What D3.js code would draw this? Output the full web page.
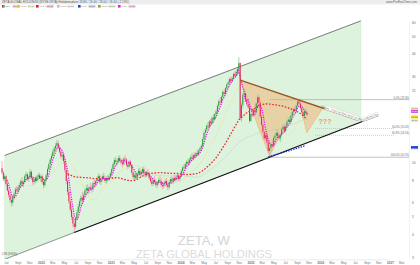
<!DOCTYPE html>
<html><head><meta charset="utf-8">
<script src="https://cdn.jsdelivr.net/npm/d3@7"></script>
<style>body{margin:0;background:#fff}svg{display:block;font-family:"Liberation Sans",Arial,sans-serif}</style>
</head><body><svg id="c" width="420" height="265"></svg>
<script>
// ---------- DATA ----------
const startWeek = "2021-06-11";
// weekly candles [open, high, low, close]
const candles = [
[9.3,10.2,8.6,8.8],[8.8,9.0,7.9,8.1],[8.1,8.6,7.8,8.4],[8.4,8.5,7.4,7.6],[7.6,7.8,6.9,7.0],[7.0,7.3,6.4,6.6],[6.6,6.8,6.0,6.2],[6.2,6.5,5.7,6.0],
[6.0,6.6,5.8,6.4],[6.4,6.9,6.2,6.7],[6.7,7.3,6.5,7.1],[7.1,7.4,6.8,7.0],[7.0,7.5,6.8,7.3],[7.3,7.7,7.0,7.5],[7.5,8.1,7.3,7.9],[7.9,8.3,7.4,7.6],
[7.6,8.0,7.3,7.8],[7.8,8.6,7.7,8.4],[8.4,8.9,8.0,8.6],[8.6,8.8,7.9,8.1],[8.1,8.5,7.8,8.3],[8.3,9.2,8.1,8.9],[8.9,9.0,8.0,8.2],[8.2,8.4,7.5,7.8],
[7.8,8.3,7.6,8.1],[8.1,8.4,7.7,7.9],[7.9,8.5,7.8,8.3],[8.3,8.7,8.0,8.5],[8.5,8.8,8.1,8.2],[8.2,8.6,7.8,8.4],
[8.4,8.6,7.6,7.8],[7.8,8.0,7.2,7.5],[7.5,8.2,7.3,8.0],[8.0,8.7,7.8,8.5],[8.5,9.4,8.3,9.2],[9.2,10.0,9.0,9.8],[9.8,10.6,9.5,10.4],[10.4,11.2,10.0,10.9],
[10.9,11.8,10.6,11.5],[11.5,12.3,11.1,12.0],[12.0,12.8,11.6,12.4],[12.4,13.4,12.0,12.8],[12.8,13.2,11.8,12.1],[12.1,12.5,11.2,11.5],[11.5,11.9,10.5,10.8],[10.8,11.4,10.3,11.0],
[11.0,11.3,9.8,10.2],[10.2,10.5,8.8,9.1],[9.1,9.3,7.6,7.9],[7.9,8.2,6.6,6.9],[6.9,7.2,5.9,6.1],[6.1,6.4,5.3,5.5],[5.5,5.8,4.8,5.0],[5.0,5.2,4.4,4.6],
[4.6,4.9,4.1,4.4],[4.4,5.0,4.3,4.9],[4.9,5.5,4.8,5.3],[5.3,5.9,5.1,5.7],[5.7,6.3,5.5,6.1],[6.1,6.6,5.8,6.4],[6.4,6.9,6.0,6.2],[6.2,6.8,6.0,6.6],
[6.6,7.2,6.4,7.0],[7.0,7.5,6.7,7.2],[7.2,7.6,6.8,7.0],[7.0,7.4,6.7,7.3],[7.3,7.7,7.0,7.2],[7.2,7.5,6.8,7.1],[7.1,7.9,6.9,7.7],[7.7,8.1,7.4,7.6],
[7.6,8.0,7.3,7.9],[7.9,8.4,7.6,8.2],[8.2,8.7,7.9,8.4],[8.4,8.6,7.6,7.8],[7.8,8.3,7.5,8.1],[8.1,8.6,7.8,8.4],[8.4,8.8,8.0,8.2],[8.2,8.5,7.7,7.9],
[7.9,8.4,7.6,8.2],[8.2,8.5,7.8,8.0],[8.0,8.6,7.9,8.4],[8.4,8.9,8.2,8.7],
[8.7,9.4,8.5,9.2],[9.2,10.0,9.0,9.8],[9.8,10.6,9.5,10.3],[10.3,10.8,9.8,10.1],[10.1,10.5,9.6,10.2],[10.2,10.9,9.9,10.6],[10.6,11.0,10.0,10.3],[10.3,10.6,9.7,10.0],
[10.0,10.4,9.4,9.8],[9.8,10.7,9.6,10.5],[10.5,11.0,10.1,10.4],[10.4,10.6,9.5,9.7],[9.7,10.0,9.2,9.5],[9.5,10.3,9.3,10.1],[10.1,10.4,9.5,9.7],[9.7,9.8,8.6,8.8],
[8.8,9.0,8.1,8.3],[8.3,8.7,7.9,8.5],[8.5,8.8,8.0,8.2],[8.2,8.9,8.0,8.7],[8.7,9.3,8.5,9.0],[9.0,9.4,8.4,8.6],[8.6,9.1,8.3,8.9],[8.9,9.4,8.6,9.2],
[9.2,9.5,8.5,8.7],[8.7,9.0,8.2,8.5],[8.5,9.0,8.3,8.8],[8.8,9.2,8.4,8.6],[8.6,8.9,8.0,8.2],[8.2,8.5,7.7,7.9],[7.9,8.3,7.4,7.6],[7.6,8.2,7.4,8.0],
[8.0,8.4,7.6,7.8],[7.8,8.1,7.3,7.5],[7.5,7.9,7.2,7.7],[7.7,8.2,7.5,8.0],[8.0,8.4,7.7,7.9],[7.9,8.2,7.3,7.5],[7.5,7.8,7.1,7.4],[7.4,7.9,7.2,7.7],
[7.7,8.1,7.4,7.9],[7.9,8.2,7.3,7.5],[7.5,7.8,7.0,7.3],[7.3,8.0,7.2,7.8],[7.8,8.3,7.6,8.1],[8.1,8.4,7.7,7.9],[7.9,8.3,7.6,8.2],[8.2,8.6,7.9,8.0],
[8.0,8.5,7.8,8.3],[8.3,8.7,8.0,8.5],[8.5,8.7,7.9,8.1],[8.1,8.6,7.9,8.4],
[8.4,9.2,8.3,9.0],[9.0,9.6,8.8,9.4],[9.4,9.8,9.0,9.3],[9.3,10.0,9.1,9.8],[9.8,10.3,9.5,10.1],[10.1,10.5,9.6,9.9],[9.9,10.6,9.7,10.4],[10.4,11.0,10.1,10.7],
[10.7,11.3,10.2,10.5],[10.5,11.2,10.3,11.0],[11.0,11.4,10.5,10.8],[10.8,11.5,10.6,11.3],[11.3,11.8,10.9,11.1],[11.1,11.9,10.9,11.6],[11.6,12.2,11.3,12.0],[12.0,12.6,11.6,12.4],
[12.4,13.8,12.2,13.5],[13.5,14.9,13.2,14.6],[14.6,15.5,14.0,15.2],[15.2,16.4,14.8,16.0],[16.0,16.8,15.3,15.8],[15.8,17.2,15.5,16.9],[16.9,17.5,16.0,16.5],[16.5,18.0,16.2,17.7],
[17.7,18.5,17.0,17.4],[17.4,18.8,17.1,18.5],[18.5,19.6,18.0,19.2],[19.2,21.0,18.8,20.6],[20.6,22.3,20.0,21.8],[21.8,23.0,20.8,21.5],[21.5,23.5,21.0,23.1],[23.1,25.0,22.5,24.6],
[24.6,25.5,23.4,24.0],[24.0,26.2,23.6,25.8],[25.8,27.5,25.0,27.0],[27.0,28.4,26.2,27.8],[27.8,29.5,27.0,29.0],[29.0,30.0,27.5,28.2],[28.2,29.8,27.8,29.4],[29.4,31.5,29.0,30.9],
[30.9,32.0,29.5,30.2],[30.2,32.5,29.8,31.8],[31.8,33.8,30.5,33.0],[33.0,38.2,31.0,35.5],[35.5,36.0,17.2,17.6],[17.6,21.5,16.8,20.8],[20.8,24.5,20.0,23.7],[23.7,25.5,22.5,24.2],
[24.2,25.0,21.8,22.4],[22.4,23.5,20.5,21.0],[21.0,22.4,19.8,20.2],[20.2,21.0,16.6,17.0],
[17.0,19.2,16.8,18.6],[18.6,19.5,17.8,18.2],[18.2,20.0,17.9,19.6],[19.6,20.5,18.6,19.0],[19.0,21.5,18.8,21.2],[21.2,23.8,20.9,23.0],[23.0,23.6,21.0,21.5],[21.5,22.0,17.5,18.0],
[18.0,18.5,15.8,16.2],[16.2,16.8,14.5,14.8],[14.8,15.2,13.2,13.6],[13.6,14.8,13.2,14.2],[14.2,14.6,12.6,12.9],[12.9,13.2,11.2,11.6],[11.6,12.4,10.7,12.0],[12.0,12.8,11.5,12.6],
[12.6,13.3,12.0,12.4],[12.4,14.0,12.2,13.7],[13.7,14.5,13.0,14.1],[14.1,15.0,13.6,14.6],[14.6,15.3,13.8,14.0],[14.0,14.8,13.3,13.6],[13.6,14.5,13.0,14.2],[14.2,15.6,13.9,15.3],
[15.3,16.2,14.8,15.8],[15.8,16.4,14.6,15.0],[15.0,16.1,14.7,15.9],[15.9,17.2,15.6,16.8],[16.8,17.8,16.2,17.3],[17.3,18.0,16.4,16.8],[16.8,18.6,16.5,18.2],[18.2,19.4,17.6,19.0],
[19.0,20.2,18.4,19.8],[19.8,20.6,19.0,19.5],[19.5,21.0,19.2,20.6],[20.6,22.3,20.2,21.8],[21.8,22.6,20.8,21.2],[21.2,21.9,19.6,20.0],[20.0,20.6,18.6,19.0],[19.0,19.8,17.6,18.1],
[18.1,19.5,17.8,19.2],[19.2,19.9,18.4,18.8],[18.8,19.4,18.0,18.4]
];
const maMagenta = 5, maYellow = 20, maRed = 50, maGrey = 100;
const priceTicks = [3,4,5,6,8,10,25,30,40,50,60];
const monthNames = ["","Jan","Mar","May","Jul","Sept","Nov"];
// drawn objects (date, price anchors)
const upperLine = [{date:"2021-09-24",price:11.9},{date:"2024-11-01",price:33.8}];
const lowerLine = [{date:"2022-06-24",price:4.1},{date:"2025-04-11",price:10.7}];
const channelStart = "2021-06-25", channelEnd = "2026-08-01", lowerEnd = "2026-10-30", lowerPre = "2021-06-18";
const brownLine = [{date:"2024-11-08",price:28.6},{date:"2026-07-17",price:17.2}];
const triangle1 = [{date:"2024-11-08",price:28.6},{date:"2025-04-11",price:10.9},{date:"2025-09-12",price:22.2}];
const triangle2 = [{date:"2025-09-12",price:22.2},{date:"2025-10-23",price:14.6},{date:"2026-01-15",price:20.1}];
const blueLine = [{date:"2025-04-04",price:10.75},{date:"2025-10-17",price:12.4}];
const fibHigh = 22.3, fibLow = 10.7;
const fibLevels = [{lv:0,start:"2025-04-11",dash:null},{lv:0.5,start:"2025-12-05",dash:"1,1"},{lv:0.618,start:"2025-12-05",dash:"1,1"},{lv:1,start:"2025-04-11",dash:null}];
const axisTags = [{v:19.9,c:"#f4f0a0"},{v:19.2,c:"#e040e0"},{v:17.9,c:"#f0e000"},{v:17.1,c:"#e8e8e8"},{v:12.1,c:"#2040e0"}];
const legendItems = [
 {c:"#d02030",c2:"#20a030",t:"ZETA",v:"18.40",bg:"#f8c8d0"},
 {c:"#e0d000",t:"MM20",v:"19.48",bg:"#f8f4b0"},
 {c:"#e02020",t:"MM50",v:"19.05",bg:"#f8c0c0"},
 {c:"#c0c0c0",t:"MM100",v:"17.10",bg:"#eeeeee"},
 {c:"#2040e0",t:"Ligne",v:"12.10",bg:"#c8d0f8"},
 {c:"#a0a020",t:"MM30",v:"17.90",bg:"#eeeec0"},
 {c:"#e020e0",t:"MM5",v:"19.20",bg:"#f8c0f8"}
];

// ---------- CHART ----------
const svg = d3.select("#c");
const parse = d3.timeParse("%Y-%m-%d");
const t0 = parse(startWeek);
const data = candles.map((c,i)=>({date:d3.timeDay.offset(t0,7*i),o:c[0],h:c[1],l:c[2],c:c[3]}));
const x = d3.scaleTime().domain([new Date(2022,0,1),new Date(2027,0,1)]).range([41,390]);
const y = d3.scaleLog().domain([3,60]).range([257,22]);
const plotR = 409, plotT = 9, plotB = 259;

svg.append("defs").append("clipPath").attr("id","clip").append("rect")
  .attr("x",0).attr("y",plotT).attr("width",plotR).attr("height",plotB-plotT);

// header
svg.append("rect").attr("x",0).attr("y",0).attr("width",420).attr("height",4.5).attr("fill","#eeeeee");
svg.append("text").attr("x",2).attr("y",3.4).attr("font-size",3).attr("fill","#555")
  .text("ZETA GLOBAL HOLDINGS (NYSE:ZETA) Hebdomadaire 18.80 / 19.40 / 18.00 / 18.40 (-2.13%)");
svg.append("text").attr("x",417).attr("y",3.4).attr("font-size",3).attr("fill","#666").attr("text-anchor","end")
  .text("www.ProRealTime.com");
// legend
const legX = [2,17,36,57,78,98,118];
legendItems.forEach((d,i)=>{
  const g = svg.append("g").attr("transform",`translate(${legX[i]},5)`);
  if(d.c2){
    g.append("rect").attr("width",1.3).attr("height",2.6).attr("fill",d.c);
    g.append("rect").attr("x",1.3).attr("width",1.3).attr("height",2.6).attr("fill",d.c2);
  } else g.append("rect").attr("width",2.6).attr("height",2.6).attr("fill",d.c);
  g.append("text").attr("x",3.3).attr("y",2.3).attr("font-size",2.3).attr("fill","#888").text(d.t);
  g.append("rect").attr("x",10.5).attr("y",0).attr("width",7).attr("height",2.8).attr("fill",d.bg);
  g.append("text").attr("x",11).attr("y",2.3).attr("font-size",2.3).attr("fill","#777").text(d.v);
});

// watermark
svg.append("text").attr("x",204).attr("y",244.5).attr("text-anchor","middle").attr("font-size",13)
  .attr("fill","#d4d4d4").text("ZETA, W");
svg.append("text").attr("x",204).attr("y",258).attr("text-anchor","middle").attr("font-size",11.2)
  .attr("fill","#dcdcdc").text("ZETA GLOBAL HOLDINGS");

const plot = svg.append("g").attr("clip-path","url(#clip)");

function linePix(a){
  const p = a.map(d=>[x(parse(d.date)),y(d.price)]);
  const m = (p[1][1]-p[0][1])/(p[1][0]-p[0][0]);
  return xx => p[0][1]+m*(xx-p[0][0]);
}
const up = linePix(upperLine), lo = linePix(lowerLine), br = linePix(brownLine);
const cx0 = x(parse(channelStart)), cx1 = x(parse(channelEnd)), lx1 = x(parse(lowerEnd)), lx0 = x(parse(lowerPre));
const pivotX = x(parse(lowerLine[0].date));

// green channel
plot.append("path").attr("d",d3.line()([[cx0,up(cx0)],[cx1,up(cx1)],[cx1,lo(cx1)],[cx0,lo(cx0)]])+"Z")
  .attr("fill","#def3dd").attr("stroke","#c4e4c4").attr("stroke-width",0.5);

// fib lines
const lh = Math.log(fibHigh), ll = Math.log(fibLow);
fibLevels.forEach(f=>{
  const p = Math.exp(lh - f.lv*(lh-ll));
  const yy = y(p);
  plot.append("line").attr("x1",x(parse(f.start))).attr("x2",f.dash?395:412).attr("y1",yy).attr("y2",yy)
    .attr("stroke",f.dash?"#aaa":"#999").attr("stroke-width",0.6).attr("stroke-dasharray",f.dash);
  svg.append("text").attr("x",409).attr("y",yy-0.9).attr("text-anchor","end").attr("font-size",2.7).attr("fill","#666")
    .text(`${(f.lv*100).toFixed(1)}% (${p.toFixed(2)})`);
});

// orange triangles
[triangle1,triangle2].forEach(tr=>{
  plot.append("path").attr("d",d3.line()(tr.map(d=>[x(parse(d.date)),y(d.price)]))+"Z")
    .attr("fill","#f0b070").attr("fill-opacity",0.5).attr("stroke","#f0a860").attr("stroke-width",0.5);
});

// moving averages
function sma(n){
  return data.map((d,i)=> i<n-1?null:{date:d.date,v:d3.mean(data.slice(i-n+1,i+1),e=>e.c)}).filter(Boolean);
}
const maLine = d3.line().x(d=>x(d.date)).y(d=>y(d.v));
function drawMA(n,color,w,dash){
  plot.append("path").attr("d",maLine(sma(n))).attr("fill","none").attr("stroke",color)
    .attr("stroke-width",w).attr("stroke-dasharray",dash);
}
drawMA(maGrey,"#b4b4b4",0.6,"1,1");
drawMA(maYellow,"#e6dc50",0.6,"1,1");

// candles
const cg = plot.append("g");
data.forEach(d=>{
  const xx = x(d.date), upc = d.c>=d.o;
  const col = upc?"#1f9e30":"#e3204c";
  cg.append("line").attr("x1",xx).attr("x2",xx).attr("y1",y(d.h)).attr("y2",y(d.l))
    .attr("stroke",upc?"#9ccf9c":"#f0a0b4").attr("stroke-width",0.9);
  const y1 = y(Math.max(d.o,d.c)), y2 = y(Math.min(d.o,d.c));
  cg.append("rect").attr("x",xx-0.5).attr("y",y1).attr("width",1).attr("height",Math.max(0.6,y2-y1)).attr("fill",col);
});

drawMA(maRed,"#f02828",1.3,"1.6,1.6");
drawMA(maMagenta,"#e010e0",1.2,"1.2,1.2");

// channel lines
plot.append("line").attr("x1",cx0).attr("x2",cx1).attr("y1",up(cx0)).attr("y2",up(cx1)).attr("stroke","#707070").attr("stroke-width",0.9);
plot.append("line").attr("x1",lx0).attr("x2",pivotX).attr("y1",lo(lx0)).attr("y2",lo(pivotX)).attr("stroke","#707070").attr("stroke-width",0.7);
plot.append("line").attr("x1",pivotX).attr("x2",lx1).attr("y1",lo(pivotX)).attr("y2",lo(lx1)).attr("stroke","#111").attr("stroke-width",1.2);
// brown line
const bx0 = x(parse(brownLine[0].date)), bx1 = x(parse(brownLine[1].date));
plot.append("line").attr("x1",bx0).attr("x2",bx1).attr("y1",br(bx0)).attr("y2",br(bx1)).attr("stroke","#9a5a2a").attr("stroke-width",1.4);
// blue dotted
plot.append("path").attr("d",d3.line()(blueLine.map(d=>[x(parse(d.date)),y(d.price)])))
  .attr("stroke","#1a2ee0").attr("stroke-width",1.3).attr("stroke-dasharray","1.4,1.2").attr("fill","none");

// rotated labels on lines
function tagOnLine(f, xc, w, txt){
  const ang = Math.atan2(f(xc+1)-f(xc-1),2)*180/Math.PI;
  const g = svg.append("g").attr("transform",`translate(${xc},${f(xc)-1.6}) rotate(${ang})`);
  g.append("rect").attr("x",-w/2).attr("y",-2).attr("width",w).attr("height",4).attr("fill","#fff")
    .attr("stroke","#999").attr("stroke-width",0.3).attr("stroke-dasharray","0.6,0.4");
  g.append("text").attr("x",0).attr("y",1.1).attr("text-anchor","middle").attr("font-size",2.6).attr("fill","#666").text(txt);
}
tagOnLine(br, 342, 36, "Oblique: 17.62 (-8.75%) 36.67 (9.72%)");
tagOnLine(lo, 370, 17, "12.88 (32.7%)");
svg.append("text").attr("x",2).attr("y",255).attr("font-size",2.6).attr("fill","#555").text("2.93 (8.96%)");

// ???
svg.append("text").attr("x",325).attr("y",124).attr("text-anchor","middle").attr("font-size",7).attr("font-weight","bold")
  .attr("fill","#f49a50").text("???");

// right axis
const ra = svg.append("g").attr("transform",`translate(${plotR},0)`)
  .call(d3.axisRight(y).tickValues(priceTicks).tickFormat(d3.format("d")).tickSize(0).tickPadding(3));
ra.select(".domain").attr("stroke","#e4e4e4").attr("stroke-width",0.5);
ra.selectAll("text").attr("font-size",3.2).attr("fill","#666").attr("font-family","Liberation Sans, Arial");
axisTags.forEach(t=>{
  svg.append("rect").attr("x",411).attr("y",y(t.v)-1.5).attr("width",7).attr("height",3).attr("fill",t.c);
  svg.append("text").attr("x",411.5).attr("y",y(t.v)+0.9).attr("font-size",2.4)
    .attr("fill",t.c==="#2040e0"||t.c==="#e040e0"?"#fff":"#555").text(t.v.toFixed(2));
});

// bottom axis
const months = d3.timeMonth.range(new Date(2021,6,1), new Date(2027,3,2), 2);
const xa = svg.append("g").attr("transform",`translate(0,${plotB+0.3})`)
  .call(d3.axisBottom(x).tickValues(months).tickSize(0).tickPadding(2.2)
    .tickFormat(d=> d.getMonth()===0 ? d.getFullYear() : monthNames[d.getMonth()/2+1]));
xa.select(".domain").attr("stroke","#d8d8d8").attr("stroke-width",0.5);
xa.selectAll("text").attr("font-size",3.2).attr("fill","#777").attr("font-family","Liberation Sans, Arial")
  .attr("font-weight",d=>d.getMonth()===0?"bold":"normal");
</script></body></html>
